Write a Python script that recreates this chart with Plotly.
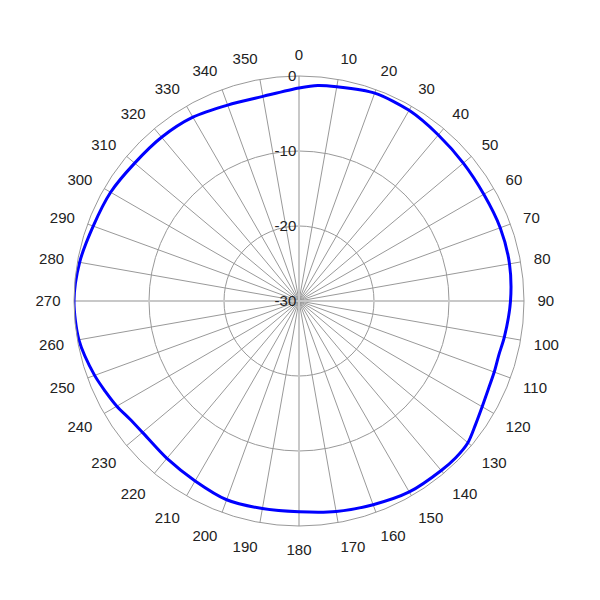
import plotly.graph_objects as go

angles = [0, 5, 10, 20, 30, 40, 50, 60, 70, 80, 90, 100, 105, 110, 115, 120, 125, 130, 135,
          140, 150, 160, 170, 180, 190, 200, 210, 220, 230, 235, 240, 245, 250, 260, 270,
          280, 290, 300, 310, 320, 330, 340, 350, 360]
gain_db = [-1.6, -1.15, -1.0, -0.5, -0.65, -1.1, -1.4, -1.55, -1.45, -1.5, -1.8, -2.2, -2.4,
           -2.3, -2.15, -1.8, -1.27, -0.6, -0.45, -0.5, -0.6, -1.1, -1.5, -1.9, -1.9, -1.8,
           -2.3, -2.6, -2.75, -2.5, -1.95, -1.5, -1.0, -0.2, 0.0, -0.3, -0.8, -1.0, -1.4,
           -1.5, -1.7, -2.2, -2.3, -1.6]
radial_ticks = [-30, -20, -10, 0]
angular_ticks = list(range(0, 360, 10))
r_min, r_max = -30, 0

fig = go.Figure()
# emphasized axes lines at 0/90/180/270
fig.add_trace(go.Scatterpolar(
    r=[r_max, r_min, r_max, None, r_max, r_min, r_max],
    theta=[0, 0, 180, None, 90, 90, 270],
    mode="lines", line=dict(color="#c8c8c8", width=2),
    hoverinfo="skip", showlegend=False))
fig.add_trace(go.Scatterpolar(
    r=gain_db, theta=angles, mode="lines",
    line=dict(color="#0000ff", width=3, shape="spline", smoothing=0.8),
    showlegend=False))

fig.update_layout(
    width=600, height=600,
    margin=dict(l=66, r=84, t=68, b=82),
    paper_bgcolor="white",
    font=dict(family="Liberation Sans, Arial, sans-serif", size=15, color="#222"),
    polar=dict(
        bgcolor="white",
        domain=dict(x=[0, 1], y=[0, 1]),
        angularaxis=dict(
            rotation=90, direction="clockwise",
            tickmode="array", tickvals=angular_ticks,
            ticktext=[str(a) for a in angular_ticks],
            showgrid=True, gridcolor="#999999", gridwidth=1,
            showline=True, linecolor="#999999", linewidth=1,
            ticks="outside", ticklen=10, tickcolor="rgba(0,0,0,0)",
            tickfont=dict(size=15, color="#222"),
        ),
        radialaxis=dict(
            range=[r_min, r_max], angle=90, side="counterclockwise",
            tickmode="array", tickvals=radial_ticks,
            ticktext=[str(v) for v in radial_ticks],
            showgrid=True, gridcolor="#999999", gridwidth=1,
            showline=False, ticks="", tickangle=90,
            tickfont=dict(size=15, color="#222"),
        ),
    ),
)

fig.write_html("out.html")
